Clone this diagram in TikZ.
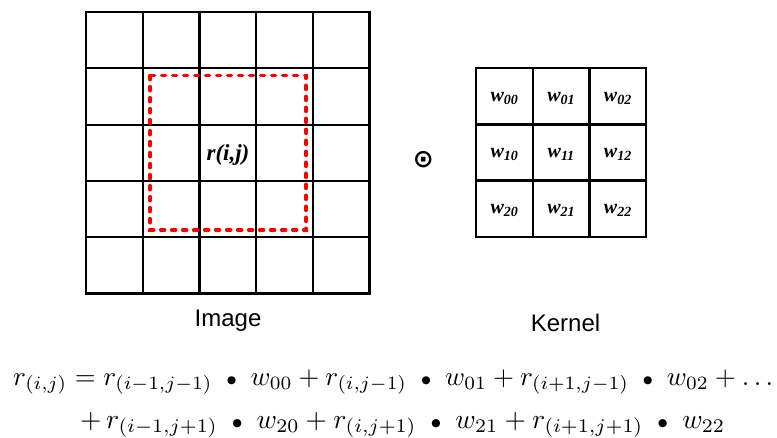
\documentclass[tikz,border=0pt]{standalone}
\usepackage{fontspec}
\usepackage{graphicx}
\newfontfamily\tnr{Liberation Serif}
\newfontfamily\arial{Liberation Sans}
\newfontfamily\dejavu{DejaVu Sans}
\newcommand{\mdot}{\mathbin{\scriptstyle\bullet}}
\begin{document}
\begin{tikzpicture}[x=1pt,y=-1pt,
  gridline/.style={line width=2.2pt, black},
  redbox/.style={red, line width=3.5pt, dash pattern=on 4pt off 7pt, line cap=round},
  cellfont/.style={font=\tnr\bfseries\itshape\fontsize{20}{20}\selectfont, inner sep=0},
  caption/.style={font=\arial\fontsize{24}{24}\selectfont, anchor=base, inner sep=0},
  eqline/.style={anchor=base west, inner sep=0}]
\useasboundingbox (0,0) rectangle (777,437);
% image grid 5x5
\foreach \i in {1,...,4} {
  \draw[gridline] ({86+\i*56.7},12) -- ({86+\i*56.7},293.5);
  \draw[gridline] (86,{12+\i*56.3}) -- (369.5,{12+\i*56.3});
}
\draw[gridline] (86,12) rectangle (369.5,293.5);
% red dashed window
\draw[redbox] (150,75.7) rectangle (306,230);
\node[cellfont, font=\tnr\bfseries\itshape\fontsize{23}{23}\selectfont] (rij) at (228,155) {r(i,j)};
% kernel grid 3x3
\foreach \i in {1,2} {
  \draw[gridline] ({476+\i*56.7},68.3) -- ({476+\i*56.7},236.7);
  \draw[gridline] (476,{68.3+\i*56.1}) -- (646,{68.3+\i*56.1});
}
\draw[gridline] (476,68.3) rectangle (646,236.7);
\foreach \r in {0,1,2} {
  \foreach \c in {0,1,2} {
    \node[cellfont, anchor=base] (w\r\c) at ({504.5+\c*56.7},{101.3+\r*56.1}) {w\textsubscript{\r\c}};
  }
}
% operator
\node[inner sep=0, font=\dejavu\bfseries\fontsize{25}{25}\selectfont] (odot) at (423.3,160) {⊙};
% captions
\node[caption] (imglbl) at (228,326) {Image};
\node[caption] (kerlbl) at (565.5,331.7) {Kernel};
% equation
\node[eqline] (eq1) at (13,385) {\resizebox{760pt}{!}{$r_{(i,j)} = r_{(i-1,j-1)}\;\mdot\; w_{00} + r_{(i,j-1)}\;\mdot\; w_{01} + r_{(i+1,j-1)}\;\mdot\; w_{02} + \ldots$}};
\node[eqline] (eq2) at (80,428) {\resizebox{645pt}{!}{$+\, r_{(i-1,j+1)}\;\mdot\; w_{20} + r_{(i,j+1)}\;\mdot\; w_{21} + r_{(i+1,j+1)}\;\mdot\; w_{22}$}};
\end{tikzpicture}
\end{document}
